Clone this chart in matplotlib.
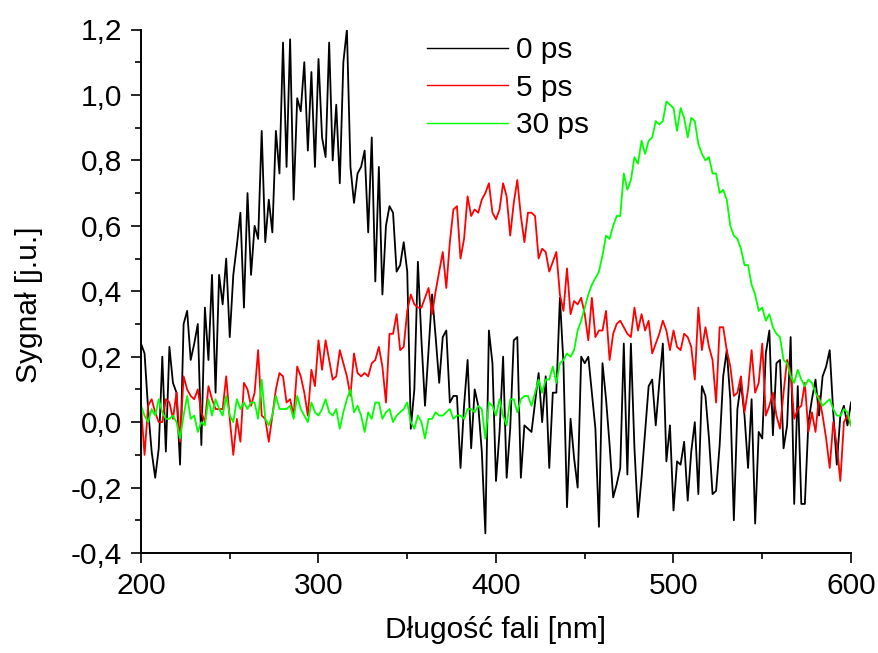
import numpy as np
import matplotlib
matplotlib.use("Agg")
import matplotlib.pyplot as plt
from matplotlib.ticker import MultipleLocator, FuncFormatter

plt.rcParams['font.family'] = ['Liberation Sans', 'DejaVu Sans']
plt.rcParams['axes.unicode_minus'] = False

# Wavelength grid [nm]
wavelength = np.arange(200, 601, 2)

# Signal after 0 ps delay
signal_0ps = [
    0.24, 0.21, 0.04, -0.09, -0.17, -0.08, 0.20, -0.09, 0.23, 0.12,
    0.09, -0.13, 0.30, 0.34, 0.19, 0.24, 0.30, -0.07, 0.35, 0.19,
    0.45, 0.09, 0.45, 0.36, 0.50, 0.26, 0.45, 0.54, 0.64, 0.35,
    0.70, 0.45, 0.60, 0.56, 0.89, 0.55, 0.68, 0.58, 0.89, 0.76,
    1.16, 0.78, 1.17, 0.68, 0.99, 0.95, 1.10, 0.83, 1.07, 0.78,
    1.11, 0.87, 0.81, 1.16, 0.80, 0.97, 0.73, 1.10, 1.20, 0.78,
    0.67, 0.76, 0.78, 0.83, 0.58, 0.87, 0.43, 0.78, 0.39, 0.60,
    0.66, 0.64, 0.46, 0.48, 0.55, 0.46, -0.02, 0.10, 0.49, 0.25,
    0.05, 0.22, 0.39, 0.26, 0.12, 0.26, 0.28, 0.06, 0.08, 0.08,
    -0.14, 0.05, 0.19, -0.08, 0.10, 0.05, -0.09, -0.34, 0.28, 0.18,
    -0.18, -0.03, 0.20, -0.17, -0.02, 0.25, 0.26, -0.17, -0.01, -0.02,
    -0.03, 0.06, 0.15, 0.00, 0.14, -0.14, 0.09, 0.09, 0.38, 0.18,
    -0.26, 0.01, -0.11, -0.20, 0.20, 0.18, 0.20, 0.09, -0.02, -0.32,
    0.18, 0.07, -0.07, -0.23, -0.19, -0.14, 0.24, -0.16, 0.24, -0.08,
    -0.29, -0.17, -0.03, 0.11, 0.13, -0.01, 0.12, 0.24, -0.12, -0.01,
    -0.27, -0.12, -0.13, -0.06, -0.24, -0.09, 0.00, -0.22, 0.11, 0.08,
    -0.05, -0.22, -0.21, -0.07, 0.14, 0.22, 0.07, -0.30, 0.04, 0.12,
    0.02, -0.14, 0.07, -0.31, -0.03, -0.05, 0.21, 0.28, -0.04, 0.18,
    0.19, -0.08, -0.01, 0.26, -0.25, 0.11, -0.25, -0.25, 0.00, 0.07,
    0.13, 0.02, 0.14, 0.17, 0.22, 0.03, -0.13, 0.02, 0.05, -0.01,
    0.06,
]

# Signal after 5 ps delay
signal_5ps = [
    0.05, -0.10, 0.05, 0.07, 0.03, 0.00, 0.00, 0.07, 0.06, 0.01,
    0.09, -0.06, 0.14, 0.10, 0.08, 0.07, 0.10, 0.03, 0.00, 0.11,
    0.07, 0.04, 0.04, 0.04, 0.14, 0.01, -0.10, 0.01, -0.06, 0.12,
    0.10, 0.05, 0.09, 0.22, 0.02, 0.01, -0.06, 0.02, 0.10, 0.15,
    0.14, 0.06, 0.07, 0.02, 0.17, 0.14, 0.09, 0.02, 0.16, 0.11,
    0.25, 0.16, 0.25, 0.19, 0.13, 0.14, 0.22, 0.18, 0.14, 0.08,
    0.21, 0.15, 0.14, 0.15, 0.14, 0.18, 0.19, 0.23, 0.17, 0.06,
    0.27, 0.27, 0.33, 0.22, 0.23, 0.34, 0.39, 0.36, 0.35, 0.35,
    0.38, 0.41, 0.33, 0.40, 0.46, 0.52, 0.41, 0.55, 0.65, 0.66,
    0.50, 0.56, 0.69, 0.63, 0.65, 0.64, 0.68, 0.70, 0.73, 0.64,
    0.62, 0.65, 0.73, 0.69, 0.57, 0.67, 0.74, 0.63, 0.55, 0.64,
    0.64, 0.63, 0.50, 0.53, 0.52, 0.46, 0.49, 0.52, 0.39, 0.34,
    0.47, 0.33, 0.37, 0.36, 0.38, 0.33, 0.25, 0.38, 0.26, 0.28,
    0.28, 0.34, 0.19, 0.27, 0.30, 0.31, 0.29, 0.27, 0.26, 0.35,
    0.28, 0.33, 0.28, 0.31, 0.21, 0.24, 0.27, 0.31, 0.28, 0.22,
    0.28, 0.23, 0.22, 0.27, 0.26, 0.23, 0.13, 0.35, 0.22, 0.29,
    0.23, 0.19, 0.06, 0.29, 0.29, 0.22, 0.17, 0.08, 0.09, 0.14,
    0.03, 0.10, 0.22, 0.09, 0.12, 0.24, 0.02, 0.05, 0.09, 0.02,
    -0.02, 0.09, 0.19, 0.15, 0.01, 0.04, 0.05, 0.12, -0.03, 0.03,
    -0.03, 0.08, 0.02, -0.05, -0.14, 0.00, -0.07, -0.18, 0.00, 0.02,
    -0.01,
]

# Signal after 30 ps delay
signal_30ps = [
    0.05, 0.02, 0.00, 0.04, 0.02, 0.07, 0.03, 0.01, 0.01, 0.02,
    0.00, -0.05, 0.02, 0.08, 0.01, 0.02, -0.03, 0.00, -0.01, 0.07,
    0.02, 0.07, 0.04, 0.02, 0.08, 0.02, 0.00, 0.07, 0.04, 0.06,
    0.04, 0.06, 0.06, 0.01, 0.13, 0.01, -0.01, 0.02, 0.08, 0.04,
    0.04, 0.04, 0.05, 0.01, 0.08, 0.04, 0.02, 0.00, 0.06, 0.03,
    0.02, 0.04, 0.07, 0.03, 0.02, 0.04, -0.02, 0.03, 0.07, 0.10,
    0.03, 0.05, 0.02, -0.03, 0.03, 0.01, 0.06, 0.06, 0.01, 0.03,
    0.04, 0.00, 0.02, 0.03, 0.04, 0.06, 0.00, -0.02, 0.02, 0.00,
    -0.05, 0.01, 0.01, 0.03, 0.02, 0.02, 0.03, 0.04, 0.01, 0.02,
    0.02, 0.01, 0.04, 0.04, 0.03, 0.05, 0.04, -0.05, 0.06, 0.05,
    0.02, 0.07, 0.02, -0.01, 0.07, 0.07, 0.03, 0.07, 0.08, 0.08,
    0.05, 0.09, 0.13, 0.09, 0.13, 0.13, 0.17, 0.12, 0.18, 0.19,
    0.21, 0.20, 0.22, 0.28, 0.31, 0.35, 0.39, 0.42, 0.44, 0.46,
    0.51, 0.57, 0.56, 0.60, 0.63, 0.63, 0.76, 0.71, 0.74, 0.81,
    0.79, 0.86, 0.82, 0.86, 0.87, 0.92, 0.91, 0.92, 0.98, 0.97,
    0.96, 0.89, 0.96, 0.93, 0.87, 0.93, 0.92, 0.85, 0.82, 0.80,
    0.81, 0.76, 0.76, 0.70, 0.71, 0.68, 0.60, 0.57, 0.56, 0.53,
    0.48, 0.48, 0.42, 0.39, 0.34, 0.35, 0.31, 0.33, 0.29, 0.27,
    0.26, 0.19, 0.18, 0.14, 0.12, 0.16, 0.13, 0.11, 0.13, 0.12,
    0.09, 0.07, 0.05, 0.06, 0.07, 0.04, 0.02, 0.02, 0.04, 0.03,
    -0.01,
]

series_labels = ["0 ps", "5 ps", "30 ps"]
series_colors = ["#000000", "#ff0000", "#00ff00"]

FS = 21.5

fig = plt.figure(figsize=(8.79, 6.53), dpi=100)
ax = fig.add_axes([141 / 879, 100 / 653, 710 / 879, 523.5 / 653])

for y, lab, col in zip([signal_0ps, signal_5ps, signal_30ps], series_labels, series_colors):
    ax.plot(wavelength, y, color=col, lw=1.3, label=lab)

ax.set_xlim(200, 600)
ax.set_ylim(-0.4, 1.2)

ax.xaxis.set_major_locator(MultipleLocator(100))
ax.xaxis.set_minor_locator(MultipleLocator(50))
ax.yaxis.set_major_locator(MultipleLocator(0.2))
ax.yaxis.set_minor_locator(MultipleLocator(0.1))


def comma_fmt(v, pos):
    s = f"{v:.1f}"
    if s == "-0.0":
        s = "0.0"
    return s.replace(".", ",")


ax.yaxis.set_major_formatter(FuncFormatter(comma_fmt))

for side in ("top", "right"):
    ax.spines[side].set_visible(False)
for side in ("left", "bottom"):
    ax.spines[side].set_linewidth(1.4)

ax.tick_params(which="major", direction="out", length=7.5, width=1.2,
               labelsize=FS, pad=6)
ax.tick_params(which="minor", direction="out", length=4, width=1.2)

ax.set_xlabel("Długość fali [nm]", fontsize=FS)
ax.set_ylabel("Sygnał [j.u.]", fontsize=FS)
ax.xaxis.set_label_coords(0.5, -0.121)
ax.yaxis.set_label_coords(-0.138, 0.475)

leg = ax.legend(loc="upper left", bbox_to_anchor=(0.403, 0.987),
                frameon=False, fontsize=FS, handlelength=2.7,
                handletextpad=0.28, labelspacing=0.32, borderpad=0,
                borderaxespad=0)
for line in leg.get_lines():
    line.set_linewidth(1.0)

fig.savefig("out.png", dpi=100)
